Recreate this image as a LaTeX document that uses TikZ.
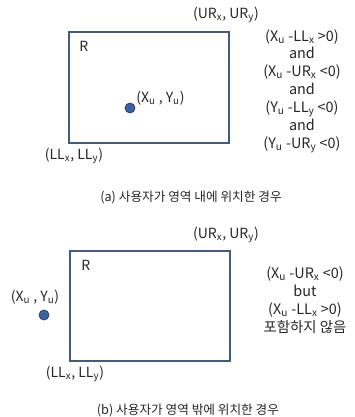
\documentclass[tikz,border=0pt]{standalone}
\usepackage{fontspec}
\setmainfont{Noto Sans CJK KR}
\definecolor{boxline}{RGB}{66,92,128}
\definecolor{dotfill}{RGB}{58,98,158}
\definecolor{dotline}{RGB}{38,68,115}
\newcommand{\sub}[1]{\textsubscript{#1}}

\begin{document}
\begin{tikzpicture}[
  x=0.75pt, y=-0.75pt,
  region/.style={draw=boxline, line width=1.5pt, rectangle, minimum width=120pt,
                 minimum height=83pt, inner sep=0pt},
  user/.style={circle, fill=dotfill, draw=dotline, line width=0.6pt, minimum size=7.5pt,
               inner sep=0pt},
  coord/.style={inner sep=0pt, text=black!85, font=\fontsize{10.5}{12}\selectfont},
  cond/.style={inner sep=0pt, align=center, text=black!85, font=\fontsize{10.8}{13.4}\selectfont},
  caption/.style={inner sep=0pt, text=black!85, font=\fontsize{9.5}{12}\selectfont},
  every node/.style={font=\fontsize{9.5}{12}\selectfont}
]
\useasboundingbox (0,0) rectangle (354,417);

% (a) user inside the region
\node[region] (rectA) at (149,87.5) {};
\node[coord, anchor=west] (nameA) at (79,46) {R};
\node[coord] (urA) at (226,15) {(UR\sub{x}, UR\sub{y})};
\node[coord] (llA) at (74,156) {(LL\sub{x}, LL\sub{y})};
\node[user] (userA) at (130,108) {};
\node[coord, anchor=west] (posA) at (136,98) {(X\sub{u} , Y\sub{u})};
\node[cond] (condA) at (302,91) {(X\sub{u} -LL\sub{x} >0)\\and\\(X\sub{u} -UR\sub{x} <0)\\and\\
  (Y\sub{u} -LL\sub{y} <0)\\and\\(Y\sub{u} -UR\sub{y} <0)};
\node[caption] (capA) at (191,198) {(a) 사용자가 영역 내에 위치한 경우};

% (b) user outside the region
\node[region] (rectB) at (150,306) {};
\node[coord, anchor=west] (nameB) at (81,265) {R};
\node[coord] (urB) at (226,235) {(UR\sub{x}, UR\sub{y})};
\node[coord] (llB) at (75,374) {(LL\sub{x}, LL\sub{y})};
\node[user] (userB) at (44,315) {};
\node[coord] (posB) at (35,297) {(X\sub{u} , Y\sub{u})};
\node[cond] (condB) at (305,300) {(X\sub{u} -UR\sub{x} <0)\\but\\(X\sub{u} -LL\sub{x} >0)\\포함하지 않음};
\node[caption] (capB) at (188,410) {(b) 사용자가 영역 밖에 위치한 경우};

\end{tikzpicture}
\end{document}
